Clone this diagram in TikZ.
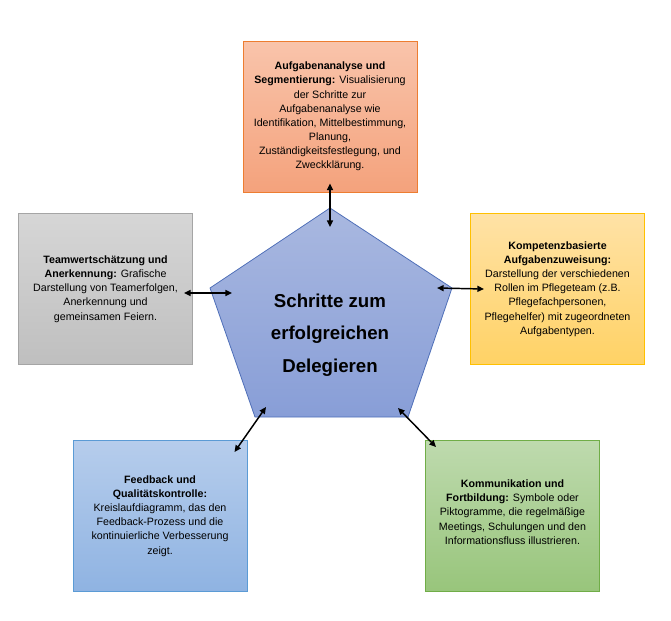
\documentclass[tikz,border=0pt]{standalone}
\usepackage{fontspec}
\setmainfont{Liberation Sans}
\usepackage{tikz}
\usepackage{xcolor}
\usetikzlibrary{arrows.meta, positioning, calc}
\definecolor{OrangeTop}{HTML}{F9C4AB}
\definecolor{OrangeBot}{HTML}{F4A27C}
\definecolor{OrangeLine}{HTML}{ED7D31}
\definecolor{GrayTop}{HTML}{D6D6D6}
\definecolor{GrayBot}{HTML}{BFBFBF}
\definecolor{GrayLine}{HTML}{A5A5A5}
\definecolor{GoldTop}{HTML}{FFE2A6}
\definecolor{GoldBot}{HTML}{FFD265}
\definecolor{GoldLine}{HTML}{FFC000}
\definecolor{BlueTop}{HTML}{B6CDEC}
\definecolor{BlueBot}{HTML}{8FB3E2}
\definecolor{BlueLine}{HTML}{5B9BD5}
\definecolor{GreenTop}{HTML}{BEDAAE}
\definecolor{GreenBot}{HTML}{98C57B}
\definecolor{GreenLine}{HTML}{70AD47}
\definecolor{PentTop}{HTML}{A9B8E0}
\definecolor{PentBot}{HTML}{889ED7}
\definecolor{PentLine}{HTML}{4F6FB8}
\tikzset{
    infobox/.style 2 args={
        draw=#2,
        line width=0.75pt,
        top color=#1Top,
        bottom color=#1Bot,
        minimum width=130.5pt,
        minimum height=113.25pt,
        text=black,
        font=\fontsize{8}{10.6}\selectfont,
        align=center,
        inner sep=2pt
    },
    pent/.style={
        draw=PentLine,
        line width=0.6pt,
        top color=PentTop,
        bottom color=PentBot
    },
    title/.style={
        font=\fontsize{14}{24.4}\selectfont\bfseries,
        align=center,
        text=black
    },
    link/.style={
        {Triangle[length=5pt,width=4.5pt]}-{Triangle[length=5pt,width=4.5pt]},
        line width=1.1pt,
        black
    }
}
\begin{document}
\begin{tikzpicture}[x=0.75pt, y=-0.75pt]
        \useasboundingbox (0,0) rectangle (671,621);

        % Center pentagon
        \draw[pent] (330,208) -- (452,288) -- (408,417) -- (255,417) -- (210,288) -- cycle;
        \node[title] (titel) at (330,335) {Schritte zum\\erfolgreichen\\Delegieren};
        \coordinate (pTop) at (330,227);
        \coordinate (pLeft) at (232,293);
        \coordinate (pRight) at (437,288);
        \coordinate (pBL) at (266,407);
        \coordinate (pBR) at (398,408);

        % Boxes around
        \node[infobox={Orange}{OrangeLine}] (aufgabe) at (330,116.5) {
            {\bfseries Aufgabenanalyse und}\\
            {\bfseries Segmentierung:} Visualisierung\\
            der Schritte zur\\
            Aufgabenanalyse wie\\
            Identifikation, Mittelbestimmung,\\
            Planung,\\
            Zuständigkeitsfestlegung, und\\
            Zweckklärung.
        };
        \node[infobox={Gray}{GrayLine}] (team) at (105.5,289) {
            {\bfseries Teamwertschätzung und}\\
            {\bfseries Anerkennung:} Grafische\\
            Darstellung von Teamerfolgen,\\
            Anerkennung und\\
            gemeinsamen Feiern.
        };
        \node[infobox={Gold}{GoldLine}] (kompetenz) at (557.5,289) {
            {\bfseries Kompetenzbasierte}\\
            {\bfseries Aufgabenzuweisung:}\\
            Darstellung der verschiedenen\\
            Rollen im Pflegeteam (z.B.\\
            Pflegefachpersonen,\\
            Pflegehelfer) mit zugeordneten\\
            Aufgabentypen.
        };
        \node[infobox={Blue}{BlueLine}] (feedback) at (160,516) {
            {\bfseries Feedback und}\\
            {\bfseries Qualitätskontrolle:}\\
            Kreislaufdiagramm, das den\\
            Feedback-Prozess und die\\
            kontinuierliche Verbesserung\\
            zeigt.
        };
        \node[infobox={Green}{GreenLine}, text depth=6pt] (komm) at (512.5,516) {
            {\bfseries Kommunikation und}\\
            {\bfseries Fortbildung:} Symbole oder\\
            Piktogramme, die regelmäßige\\
            Meetings, Schulungen und den\\
            Informationsfluss illustrieren.
        };

        % Arrows
        \draw[link] ([yshift=6.75pt]aufgabe.south) -- (pTop);
        \draw[link] ([xshift=-6.75pt,yshift=-3pt]team.east) -- (pLeft);
        \draw[link] ([xshift=10.5pt]kompetenz.west) -- (pRight);
        \draw[link] ([xshift=-9.75pt,yshift=-9pt]feedback.north east) -- (pBL);
        \draw[link] ([xshift=8.25pt,yshift=-5.25pt]komm.north west) -- (pBR);
    \end{tikzpicture}
\end{document}
